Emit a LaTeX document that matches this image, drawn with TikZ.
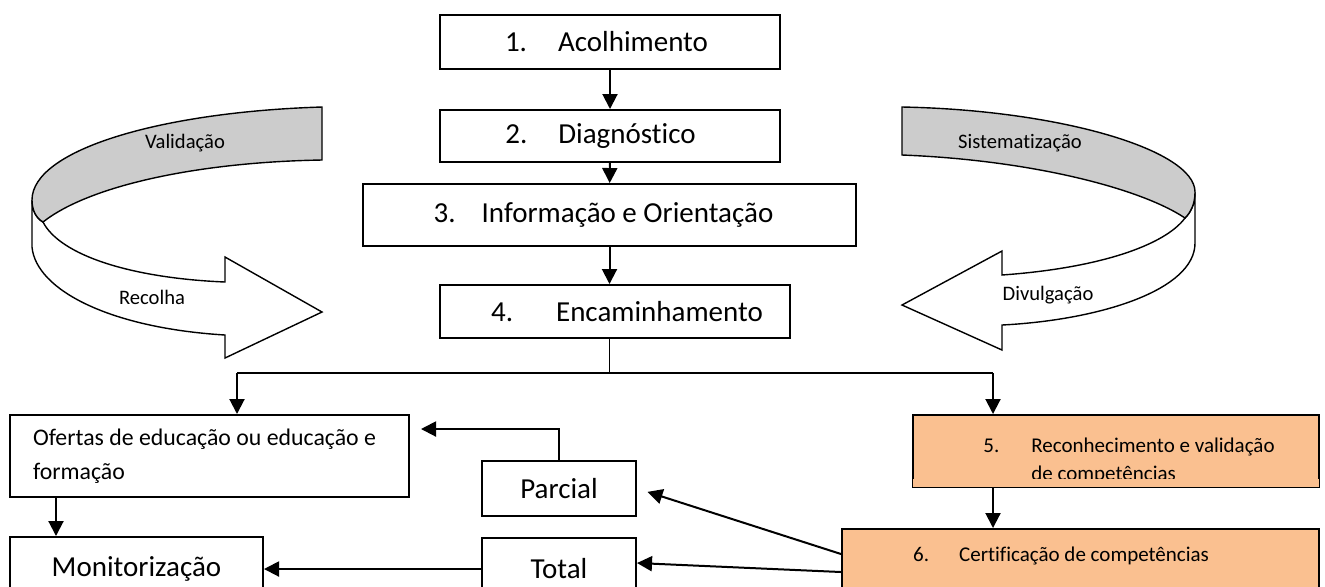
\documentclass[tikz,border=0pt]{standalone}
\usepackage{fontspec}
\setmainfont{Carlito}[RawFeature={-liga,-clig,-calt,-dlig}]
\usetikzlibrary{arrows.meta}
\definecolor{peach}{RGB}{250,192,144}
\newcommand{\numlab}[3]{\makebox[#1][l]{#2}#3}

\begin{document}
\begin{tikzpicture}[x=0.5pt,y=-0.5pt,line width=1pt,>={Triangle[length=7.5pt,width=7.5pt]},
	main node/.style={rectangle,draw,inner sep=0pt,font=\fontsize{14.5}{17}\selectfont},
	peach node/.style={main node,fill=peach,font=\fontsize{10.5}{14}\selectfont},
	flow/.style={->,line width=1pt},
	split/.style={line width=0.6pt},
	band/.style={draw,line width=0.7pt},
	band label/.style={font=\fontsize{10.3}{12}\selectfont}]
				
				\useasboundingbox (0,0) rectangle (1325,586);
				
				\node[main node,minimum width=170pt,minimum height=27pt] (1) at (610,42) {\numlab{26.5pt}{1.}{Acolhimento}\hspace*{3.5pt}};
				\node[main node,minimum width=170pt,minimum height=26pt] (2) at (610,136) {\numlab{26.5pt}{2.}{Diagnóstico}\hspace*{9.5pt}};
				\node[main node,minimum width=246.5pt,minimum height=31pt] (3) at (609.5,215) {\numlab{24pt}{3.}{Informação e Orientação}\hspace*{6pt}};
				\node[main node,minimum width=175pt,minimum height=26.5pt] (4) at (615,311.5) {\hspace*{12pt}\numlab{32.5pt}{4.}{Encaminhamento}};
				
				\node[main node,minimum width=199.5pt,minimum height=41pt,align=left,font=\fontsize{11.9}{17}\selectfont] (ofertas) at (209.5,456) {Ofertas de educação ou educação e\hspace*{5pt}\\formação};
				\node[main node,minimum width=77pt,minimum height=27.5pt] (parcial) at (559,488.5) {Parcial};
				\node[main node,minimum width=77pt,minimum height=31pt] (total) at (559,569) {Total};
				\node[main node,minimum width=126.5pt,minimum height=32pt] (monit) at (136.5,569) {Monitorização};
				
				\node[peach node,minimum width=203pt,minimum height=36pt,align=left] (5) at (1116,451) {\rule{0pt}{17pt}\hspace*{13pt}\numlab{24pt}{5.}{Reconhecimento e validação}\\\hspace*{37pt}de competências};
				\fill[peach] ([shift={(0.5pt,0.5pt)}]5.south west) rectangle ([shift={(-0.5pt,4.5pt)}]5.south east);
				\node[peach node,anchor=north,minimum width=238.5pt,text height=16pt,text depth=20pt] (6) at (1080.5,528) {\numlab{23pt}{6.}{Certificação de competências}\hspace*{19.5pt}};
				
				\coordinate (left fork) at (237,373);
				\coordinate (right fork) at (993,373);
				
				\path (1) edge[flow] (2);
				\path (2) edge[flow] (3);
				\path (3) edge[flow] (3 |- 4.north);
				\draw[split] (3 |- 4.south) -- (3 |- left fork);
				\draw[split] (left fork) -- (right fork);
				\path (left fork) edge[flow] (left fork |- ofertas.north);
				\path (right fork) edge[flow] (right fork |- 5.north);
				\path (right fork |- 5.south) edge[flow] (right fork |- 6.north);
				
				\path ([xshift=23.5pt]ofertas.south west) edge[flow] ([xshift=23.5pt]monit.north west);
				\draw[flow,shorten >=5.5pt] (parcial.north) |- ([yshift=13.5pt]ofertas.east);
				\path ([yshift=-13pt]6.north west) edge[flow,shorten >=5.5pt] (parcial.east);
				\path ([yshift=-22pt]6.north west) edge[flow] ([yshift=3pt]total.east);
				\path (total) edge[flow] (monit);
				
				\draw[band,fill=white] (32,200) -- (32,247) .. controls (36,290) and (110,328) .. (225,335) -- (225,358) -- (322,312) -- (225,257) -- (225,282) .. controls (130,278) and (60,255) .. (43,222) .. controls (36,218) and (32,210) .. (32,200) -- cycle;
				\draw[band,fill=black!20] (322,107) .. controls (160,112) and (32,150) .. (32,200) .. controls (32,210) and (36,218) .. (43,222) .. controls (90,185) and (200,162) .. (322,160) -- cycle;
				\node[band label] (validacao) at (185,143) {Validação};
				\node[band label] (recolha) at (152,297) {Recolha};
				
				\draw[band,fill=white] (1195,192) -- (1195,243) .. controls (1195,290) and (1100,320) .. (1002,325) -- (1002,350) -- (902,305) -- (1002,251) -- (1002,275) .. controls (1100,268) and (1165,245) .. (1185,218) .. controls (1190,213) and (1195,205) .. (1195,192) -- cycle;
				\draw[band,fill=black!20] (902,107) .. controls (1060,110) and (1195,150) .. (1195,192) .. controls (1195,205) and (1190,213) .. (1185,218) .. controls (1140,188) and (1030,160) .. (902,155) -- cycle;
				\node[band label] (sistematizacao) at (1020,143) {Sistematização};
				\node[band label] (divulgacao) at (1048,295) {Divulgação};
				
\end{tikzpicture}
\end{document}
